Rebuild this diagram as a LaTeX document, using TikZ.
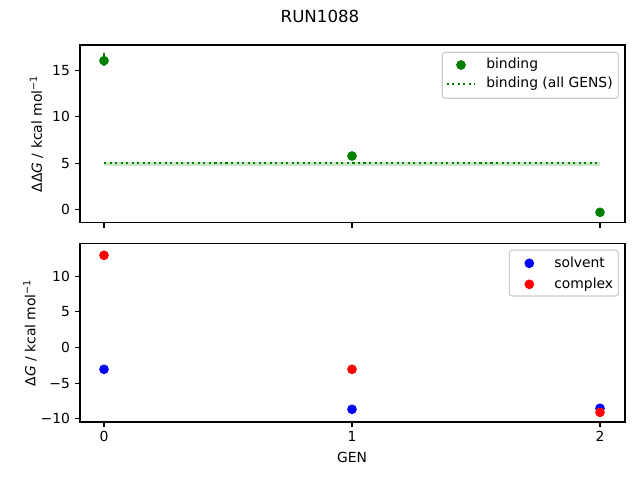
\documentclass[tikz,border=0pt]{standalone}
\usepackage{fontspec}
\setmainfont{DejaVu Sans}
\definecolor{mgreen}{RGB}{0,128,0}
\definecolor{mblue}{RGB}{0,0,255}
\definecolor{mred}{RGB}{255,0,0}
\definecolor{legedge}{gray}{0.8}
\begin{document}
\begin{tikzpicture}[x=0.72pt,y=-0.72pt,
  spine/.style={line width=0.8pt,black},
  tickmark/.style={line width=0.8pt,black},
  lab/.style={inner sep=0pt,font=\fontsize{10}{12}\selectfont},
  legbox/.style={draw=legedge,line width=0.8pt,fill=white,fill opacity=0.8,rounded corners=2pt},
  ptg/.style={fill=mgreen},
  ptb/.style={fill=mblue},
  ptr/.style={fill=mred},
  dotline/.style={mgreen,line width=1.5pt,dash pattern=on 1.5pt off 2.475pt}]
\useasboundingbox (0,0) rectangle (640,480);
% title
\node[lab,font=\fontsize{12}{14}\selectfont,anchor=base] (title) at (320,22.7) {RUN1088};

% ===== top axes =====
\fill[mgreen,opacity=0.2] (104,161.7) rectangle (600,166);
\draw[dotline] (104,163.3) -- (600,163.3);
\draw[mgreen,line width=1.5pt] (104,53.3) -- (104,66);
\fill[ptg] (104,60.7) circle[radius=3.5pt];
\fill[ptg] (352,156.0) circle[radius=3.5pt];
\fill[ptg] (600,212.3) circle[radius=3.5pt];
\draw[spine] (80,45) rectangle (625,222.7);
\foreach \xx in {104,352,600} \draw[tickmark] (\xx,222.7) -- ++(0,4.9);
\foreach \yy/\tl [count=\i] in {209.3/0,163.1/5,116.9/10,70.7/15} {
  \draw[tickmark] (80,\yy) -- ++(-4.9,0);
  \node[lab,anchor=east] (ty\i) at (70.2,\yy) {\tl};
}
\node[lab,rotate=90,anchor=south] (ylt) at (43.5,133.9) {ΔΔ\textit{G} / kcal mol\textsuperscript{−1}};
% legend top
\draw[legbox] (442.3,52.3) rectangle (618.3,98.3);
\fill[ptg] (461,65) circle[radius=3.5pt];
\draw[dotline] (446.7,84) -- (475,84);
\node[lab,anchor=base west] (lg1) at (486,68.9) {binding};
\node[lab,anchor=base west] (lg2) at (486,87.9) {binding (all GENS)};

% ===== bottom axes =====
\fill[ptb] (104,369.3) circle[radius=3.5pt];
\fill[ptr] (104,255.3) circle[radius=3.5pt];
\fill[ptb] (352,409.3) circle[radius=3.5pt];
\fill[ptr] (352,369.3) circle[radius=3.5pt];
\fill[ptb] (600,408.3) circle[radius=3.5pt];
\fill[ptr] (600,412.3) circle[radius=3.5pt];
\draw[spine] (80,243.3) rectangle (625,422);
\foreach \xx/\tl [count=\i] in {104/0,352/1,600/2} {
  \draw[tickmark] (\xx,422) -- ++(0,4.9);
  \node[lab,anchor=base] (tx\i) at (\xx,441.7) {\tl};
}
\foreach \yy/\tl [count=\i] in {418.7/−10,383.1/−5,347.5/0,311.9/5,276.3/10} {
  \draw[tickmark] (80,\yy) -- ++(-4.9,0);
  \node[lab,anchor=east] (by\i) at (70.2,\yy) {\tl};
}
\node[lab,rotate=90,anchor=south] (ylb) at (37,332.7) {Δ\textit{G} / kcal mol\textsuperscript{−1}};
\node[lab,anchor=base] (xl) at (352,462.7) {GEN};
% legend bottom
\draw[legbox] (509.3,250) rectangle (618.3,296);
\fill[ptb] (529.3,263.3) circle[radius=3.5pt];
\fill[ptr] (529.3,284.3) circle[radius=3.5pt];
\node[lab,anchor=base west] (lb1) at (554,267) {solvent};
\node[lab,anchor=base west] (lb2) at (554,288) {complex};
\end{tikzpicture}
\end{document}
